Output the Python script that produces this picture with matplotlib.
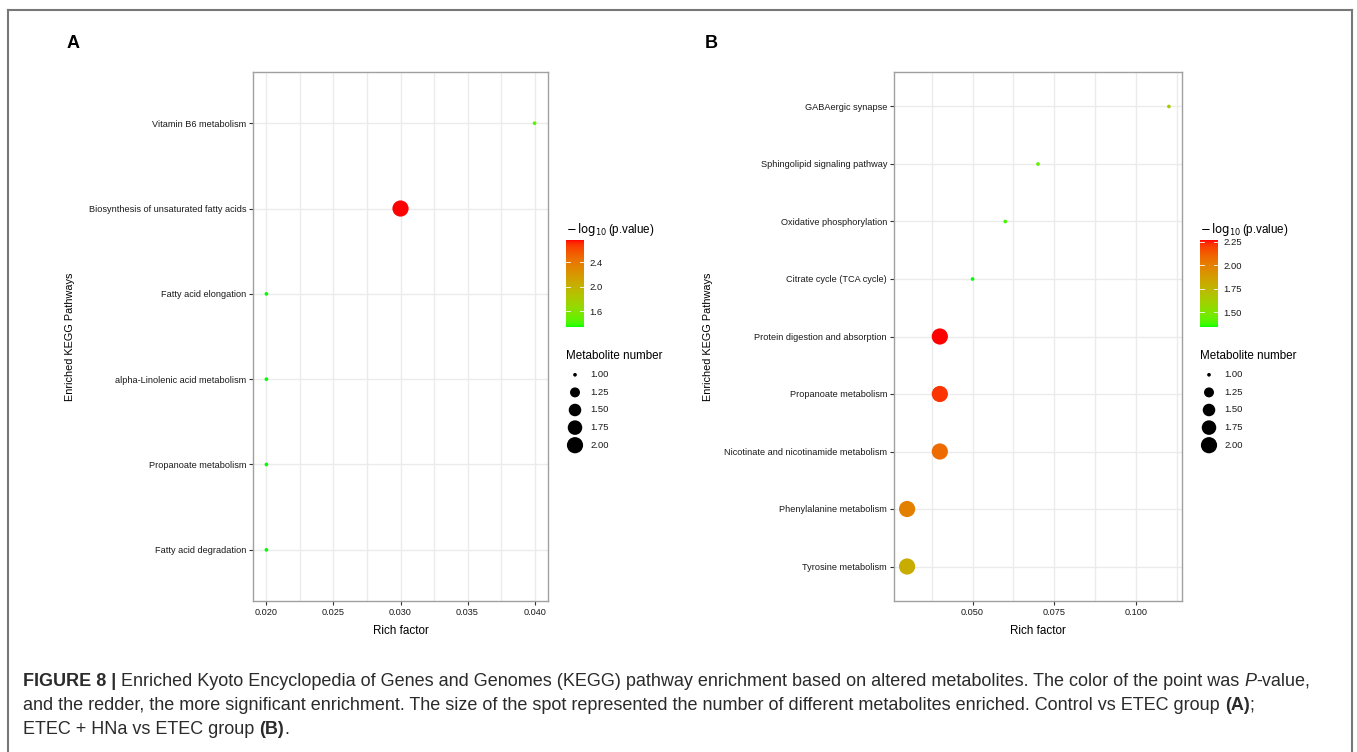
import numpy as np
import matplotlib
matplotlib.use("Agg")
import matplotlib.pyplot as plt
from matplotlib.colors import ListedColormap, Normalize
from matplotlib.cm import ScalarMappable

plt.rcParams['font.family'] = ['Liberation Sans', 'DejaVu Sans']

# Panel A data
pathways_a = ["Vitamin B6 metabolism", "Biosynthesis of unsaturated fatty acids",
              "Fatty acid elongation", "alpha-Linolenic acid metabolism",
              "Propanoate metabolism", "Fatty acid degradation"]
rich_a = [0.040, 0.030, 0.020, 0.020, 0.020, 0.020]
logp_a = [1.45, 2.76, 1.34, 1.34, 1.34, 1.34]
count_a = [1, 2, 1, 1, 1, 1]
cbar_ticks_a = [1.6, 2.0, 2.4]
xticks_a = [0.020, 0.025, 0.030, 0.035, 0.040]

# Panel B data
pathways_b = ["GABAergic synapse", "Sphingolipid signaling pathway",
              "Oxidative phosphorylation", "Citrate cycle (TCA cycle)",
              "Protein digestion and absorption", "Propanoate metabolism",
              "Nicotinate and nicotinamide metabolism", "Phenylalanine metabolism",
              "Tyrosine metabolism"]
rich_b = [0.11, 0.07, 0.06, 0.05, 0.04, 0.04, 0.04, 0.03, 0.03]
logp_b = [1.65, 1.42, 1.38, 1.34, 2.27, 2.22, 2.08, 2.00, 1.80]
count_b = [1, 1, 1, 1, 2, 2, 2, 2, 2]
cbar_ticks_b = [1.50, 1.75, 2.00, 2.25]
xticks_b = [0.050, 0.075, 0.100]

size_keys = [1.00, 1.25, 1.50, 1.75, 2.00]


# green -> red gradient in Lab space, like ggplot
def srgb_to_lab(rgb):
    c = np.asarray(rgb, float)
    lin = np.where(c <= 0.04045, c / 12.92, ((c + 0.055) / 1.055) ** 2.4)
    m = np.array([[0.4124, 0.3576, 0.1805], [0.2126, 0.7152, 0.0722], [0.0193, 0.1192, 0.9505]])
    xyz = m @ lin / np.array([0.95047, 1.0, 1.08883])
    f = np.where(xyz > 0.008856, np.cbrt(xyz), 7.787 * xyz + 16 / 116)
    return np.array([116 * f[1] - 16, 500 * (f[0] - f[1]), 200 * (f[1] - f[2])])


def lab_to_srgb(lab):
    L, a, b = lab
    fy_ = (L + 16) / 116
    f = np.array([fy_ + a / 500, fy_, fy_ - b / 200])
    xyz = np.where(f ** 3 > 0.008856, f ** 3, (f - 16 / 116) / 7.787) * np.array([0.95047, 1.0, 1.08883])
    mi = np.array([[3.2406, -1.5372, -0.4986], [-0.9689, 1.8758, 0.0415], [0.0557, -0.2040, 1.0570]])
    lin = np.clip(mi @ xyz, 0, 1)
    c = np.where(lin <= 0.0031308, 12.92 * lin, 1.055 * lin ** (1 / 2.4) - 0.055)
    return np.clip(c, 0, 1)


lab_lo = srgb_to_lab([0, 1, 0])
lab_hi = srgb_to_lab([1, 0, 0])
cmap = ListedColormap([lab_to_srgb(lab_lo + t * (lab_hi - lab_lo)) for t in np.linspace(0, 1, 256)])


def key_size(v):
    # area scaling of ggplot, converted to matplotlib points^2
    size = 1 + 5 * np.sqrt(np.asarray(v, float) - 1)
    diam_px = 2.5 * size + 1.2
    return (diam_px * 0.72) ** 2


fig = plt.figure(figsize=(13.57, 7.52), dpi=100)
W, H = 1357, 752


def fx(px):
    return px / W


def fy(py):
    return 1 - py / H


def panel(left, right, cb_left, pathways, rich, logp, count, xticks, xlim, cticks, label, label_x):
    ax = fig.add_axes([fx(left), fy(601), fx(right - left), fy(72) - fy(601)])
    n = len(pathways)
    ypos = np.arange(n)[::-1]
    norm = Normalize(min(logp), max(logp))
    ax.scatter(rich, ypos, s=key_size(count), c=logp, cmap=cmap, norm=norm, zorder=3, linewidths=0)
    ax.set_yticks(ypos)
    ax.set_yticklabels(pathways)
    ax.set_xticks(xticks)
    ax.set_xticklabels(["%.3f" % t for t in xticks])
    step = xticks[1] - xticks[0]
    minor = [t + step / 2 for t in [xticks[0] - step] + list(xticks)]
    ax.set_xticks(minor, minor=True)
    ax.set_ylim(-0.6, n - 0.4)
    ax.set_xlim(*xlim)
    ax.tick_params(which='minor', length=0)
    ax.grid(True, which='both', color='#ebebeb', linewidth=1.0, zorder=0)
    ax.set_axisbelow(True)
    ax.tick_params(which='major', length=3, width=0.8, color='#333333', labelsize=6.6,
                   labelcolor='#1a1a1a', pad=2)
    for s in ax.spines.values():
        s.set_color('#a0a0a0')
        s.set_linewidth(1.0)
    ax.set_xlabel("Rich factor", fontsize=8.4, labelpad=6)
    ax.set_ylabel("Enriched KEGG Pathways", fontsize=7.8)
    ax.yaxis.set_label_coords((label_x + 7 - left) / (right - left), 0.5)

    # colour bar
    cax = fig.add_axes([fx(cb_left), fy(327), fx(18), fy(240) - fy(327)])
    cb = fig.colorbar(ScalarMappable(norm=norm, cmap=cmap), cax=cax, ticks=cticks)
    cb.outline.set_visible(False)
    cax.tick_params(length=0, labelsize=6.8, labelcolor='#1a1a1a', pad=4)
    fmt = "%.1f" if label == "A" else "%.2f"
    cax.set_yticklabels([fmt % t for t in cticks])
    for t in cticks:
        cax.plot([0, 0.2], [t, t], color='white', lw=0.6, transform=cax.get_yaxis_transform())
        cax.plot([0.8, 1], [t, t], color='white', lw=0.6, transform=cax.get_yaxis_transform())
    fig.text(fx(cb_left), fy(229), r"$-\,\log_{10}$(p.value)", fontsize=8.4, va='center', ha='left')

    # size key
    fig.text(fx(cb_left), fy(356), "Metabolite number", fontsize=8.4, va='center', ha='left')
    kax = fig.add_axes([fx(cb_left), fy(454), fx(60), fy(366) - fy(454)])
    kax.set_xlim(0, 60)
    kax.set_ylim(len(size_keys) - 0.5, -0.5)
    kax.axis('off')
    kx = np.full(len(size_keys), 9)
    kax.scatter(kx, np.arange(len(size_keys)), s=key_size(size_keys), color='black', linewidths=0)
    for i, v in enumerate(size_keys):
        kax.text(24, i, "%.2f" % v, fontsize=6.8, va='center', ha='left', color='#1a1a1a')

    fig.text(fx(label_x + 5), fy(44), label, fontsize=13, fontweight='bold', va='center', ha='center')
    return ax


panel(253, 548, 566, pathways_a, rich_a, logp_a, count_a, xticks_a, (0.019, 0.041), cbar_ticks_a, "A", 68)
panel(894, 1182, 1200, pathways_b, rich_b, logp_b, count_b, xticks_b, (0.026, 0.114), cbar_ticks_b, "B", 706)

# outer frame (open at the bottom)
frame_col = '#777777'
fig.add_artist(plt.Line2D([fx(8), fx(8)], [fy(10), 0], color=frame_col, lw=1.5))
fig.add_artist(plt.Line2D([fx(8), fx(1352)], [fy(10), fy(10)], color=frame_col, lw=1.5))
fig.add_artist(plt.Line2D([fx(1352), fx(1352)], [fy(10), 0], color=frame_col, lw=1.5))

# caption with mixed styles
caption = [
    [("FIGURE 8 | ", 'bold', 'normal'),
     ("Enriched Kyoto Encyclopedia of Genes and Genomes (KEGG) pathway enrichment based on altered metabolites. The color of the point was ", 'normal', 'normal'),
     ("P", 'normal', 'italic'), ("-value,", 'normal', 'normal')],
    [("and the redder, the more significant enrichment. The size of the spot represented the number of different metabolites enriched. Control vs ETEC group ", 'normal', 'normal'),
     ("(A)", 'bold', 'normal'), (";", 'normal', 'normal')],
    [("ETEC + HNa vs ETEC group ", 'normal', 'normal'), ("(B)", 'bold', 'normal'), (".", 'normal', 'normal')],
]
line_y = [681, 705, 729]
fig.canvas.draw()
renderer = fig.canvas.get_renderer()
for segs, py in zip(caption, line_y):
    x = fx(23)
    for txt, weight, style in segs:
        t = fig.text(x, fy(py), txt, fontsize=13.0, fontweight=weight, fontstyle=style,
                     va='center', ha='left', color='#2b2b2b')
        bb = t.get_window_extent(renderer)
        x += bb.width / W

fig.savefig("out.png", dpi=100)
